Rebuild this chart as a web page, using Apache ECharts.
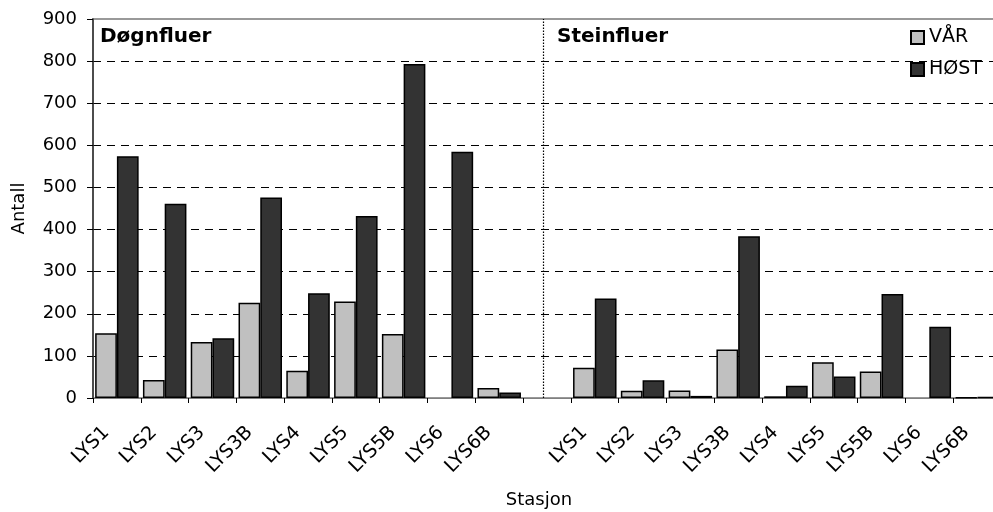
<!DOCTYPE html>
<html>
<head>
<meta charset="utf-8">
<script src="https://cdn.jsdelivr.net/npm/echarts@6/dist/echarts.min.js"></script>
<style>
html,body{margin:0;padding:0;background:#fff;}
#chart{width:993px;height:512px;}
</style>
</head>
<body>
<div id="chart"></div>
<script>
const stations = ['LYS1','LYS2','LYS3','LYS3B','LYS4','LYS5','LYS5B','LYS6','LYS6B'];
const dognVar  = [154, 43, 133, 226, 65, 229, 152, null, 24];
const dognHost = [574, 461, 142, 476, 249, 432, 793, 585, 13];
const steinVar  = [72, 17, 18, 115, 4, 85, 63, null, 1];
const steinHost = [236, 42, 5, 384, 29, 51, 247, 169, 2];
const yTicks = [0,100,200,300,400,500,600,700,800,900];
const dividerPos = 9.425;

const categories = [...stations, '', ...stations];
const varData = [...dognVar, null, ...steinVar];
const hostData = [...dognHost, null, ...steinHost];

const FONT = 'DejaVu Sans';
const chart = echarts.init(document.getElementById('chart'), null, {renderer:'canvas'});
chart.setOption({
  animation: false,
  backgroundColor: '#fff',
  textStyle: {fontFamily: FONT, color: '#000'},
  title: [
    {text: 'Døgnfluer', left: 100, top: 27, padding: 0,
     textStyle: {fontFamily: FONT, fontWeight: 'bold', fontSize: 20, color: '#000'}},
    {text: 'Steinfluer', left: 557, top: 27, padding: 0,
     textStyle: {fontFamily: FONT, fontWeight: 'bold', fontSize: 20, color: '#000'}}
  ],
  legend: {
    data: ['VÅR','HØST'],
    orient: 'vertical',
    left: 910, top: 28, padding: 0,
    itemWidth: 13, itemHeight: 13, itemGap: 13, itemTextGap: 5,
    icon: 'rect',
    textStyle: {fontFamily: FONT, fontSize: 19, color: '#000', lineHeight: 19}
  },
  grid: {
    left: 93, top: 19, width: 908, height: 379,
    outerBoundsMode: 'none', containLabel: false,
    show: true, borderColor: '#999', borderWidth: 2, backgroundColor: 'transparent'
  },
  xAxis: [
    {
      type: 'category', data: categories, boundaryGap: true,
      axisLine: {lineStyle: {color: '#808080', width: 1}},
      axisTick: {show: true, length: 5, lineStyle: {color: '#000'}},
      axisLabel: {rotate: 45, margin: 21, interval: 0, fontFamily: FONT, fontSize: 19, color: '#000',
                  padding: [0, 15, 0, 0]},
      name: 'Stasjon', nameLocation: 'middle', nameGap: 93,
      nameTextStyle: {fontFamily: FONT, fontSize: 18, color: '#000', padding: [0,16,0,0]}
    },
    {
      type: 'value', min: 0, max: categories.length, show: false
    }
  ],
  yAxis: {
    type: 'value', min: yTicks[0], max: yTicks[yTicks.length-1], interval: yTicks[1]-yTicks[0],
    axisLine: {show: true, lineStyle: {color: '#333', width: 1.5}},
    axisTick: {show: true, length: 6, lineStyle: {color: '#000'}},
    axisLabel: {margin: 16, fontFamily: FONT, fontSize: 18, color: '#000'},
    splitLine: {show: true, showMinLine: false, showMaxLine: false,
      lineStyle: {color: '#000', type: [8,6], width: 1}},
    name: 'Antall', nameLocation: 'middle', nameGap: 65,
    nameTextStyle: {fontFamily: FONT, fontSize: 18, color: '#000'}
  },
  series: [
    {
      name: 'VÅR', type: 'bar', data: varData,
      barGap: '0%', barCategoryGap: '9%',
      itemStyle: {color: '#c0c0c0', borderColor: '#000', borderWidth: 1.5}
    },
    {
      name: 'HØST', type: 'bar', data: hostData,
      barGap: '0%', barCategoryGap: '9%',
      itemStyle: {color: '#333333', borderColor: '#000', borderWidth: 1.5}
    },
    {
      name: 'divider', type: 'line', xAxisIndex: 1, yAxisIndex: 0, data: [],
      silent: true,
      markLine: {
        silent: true, symbol: 'none', label: {show: false},
        lineStyle: {color: '#000', type: [1.5, 1.5], width: 1.2},
        data: [{xAxis: dividerPos}]
      }
    }
  ]
});
</script>
</body>
</html>
